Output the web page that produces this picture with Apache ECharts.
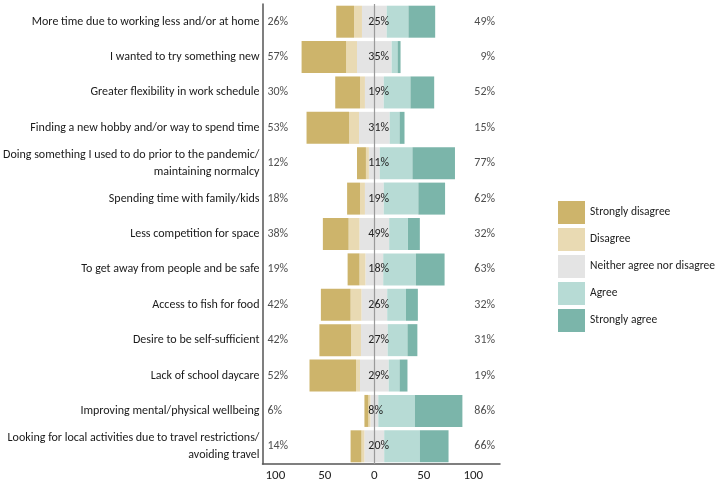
<!DOCTYPE html>
<html>
<head>
<meta charset="utf-8">
<script src="https://cdn.jsdelivr.net/npm/echarts@6/dist/echarts.min.js"></script>
<style>
  html, body { margin: 0; padding: 0; background: #fff; }
  #chart { width: 716px; height: 482px; }
</style>
</head>
<body>
<div id="chart"></div>
<script>
const categories = [
  'More time due to working less and/or at home',
  'I wanted to try something new',
  'Greater flexibility in work schedule',
  'Finding a new hobby and/or way to spend time',
  'Doing something I used to do prior to the pandemic/\nmaintaining normalcy',
  'Spending time with family/kids',
  'Less competition for space',
  'To get away from people and be safe',
  'Access to fish for food',
  'Desire to be self-sufficient',
  'Lack of school daycare',
  'Improving mental/physical wellbeing',
  'Looking for local activities due to travel restrictions/\navoiding travel'
];
const stronglyDisagree = [18, 45, 25, 43, 9, 13, 26, 12, 30, 32, 47, 4, 11];
const disagree         = [8, 11, 5, 10, 3, 5, 11, 6, 11, 10, 4, 2, 3];
const neutral          = [25, 35, 19, 31, 11, 19, 30, 18, 26, 27, 29, 8, 20];
const agree            = [22, 6, 27, 10, 33, 35, 19, 33, 19, 20, 11, 37, 36];
const stronglyAgree    = [27, 3, 24, 5, 43, 27, 12, 29, 12, 10, 8, 48, 29];
const leftLabels    = ['26%', '57%', '30%', '53%', '12%', '18%', '38%', '19%', '42%', '42%', '52%', '6%', '14%'];
const neutralLabels = ['25%', '35%', '19%', '31%', '11%', '19%', '49%', '18%', '26%', '27%', '29%', '8%', '20%'];
const rightLabels   = ['49%', '9%', '52%', '15%', '77%', '62%', '32%', '63%', '32%', '31%', '19%', '86%', '66%'];
const tickValues = [-100, -50, 0, 50, 100];

const seriesNames = ['Strongly disagree', 'Disagree', 'Neither agree nor disagree', 'Agree', 'Strongly agree'];
const colors = ['#CDB46B', '#E9DAB3', '#E4E4E4', '#B7DBD5', '#7BB5AA'];
const FONT = 'Carlito, Lato, "Liberation Sans", sans-serif';

const barBase = { type: 'bar', stack: 'lk', barWidth: 32, silent: true };

const option = {
  animation: false,
  textStyle: { fontFamily: FONT },
  grid: { left: 260, right: 216, top: 4, bottom: 16, containLabel: false },
  legend: {
    orient: 'vertical',
    left: 553,
    top: 196,
    itemWidth: 27,
    itemHeight: 23,
    itemGap: 4,
    icon: 'rect',
    data: seriesNames,
    textStyle: { fontFamily: FONT, fontSize: 11.5, color: '#222' },
    selectedMode: false
  },
  xAxis: {
    type: 'value',
    min: -113,
    max: 127,
    axisLine: { show: true, lineStyle: { color: '#555', width: 1.5 } },
    axisTick: { show: false },
    splitLine: { show: false },
    axisLabel: {
      customValues: tickValues,
      formatter: v => String(Math.abs(v)),
      fontFamily: FONT, fontSize: 13, color: '#222', margin: 5
    }
  },
  yAxis: {
    type: 'category',
    inverse: true,
    data: categories,
    axisLine: { show: true, onZero: false, lineStyle: { color: '#555', width: 1.5 } },
    axisTick: { show: false },
    axisLabel: { fontFamily: FONT, fontSize: 12, color: '#1a1a1a', margin: 3, lineHeight: 17, align: 'right', padding: [4, 0, 0, 0] }
  },
  series: [
    Object.assign({}, barBase, { name: seriesNames[2], data: neutral.map(v => -v / 2), itemStyle: { color: colors[2] } }),
    Object.assign({}, barBase, { name: seriesNames[1], data: disagree.map(v => -v), itemStyle: { color: colors[1] } }),
    Object.assign({}, barBase, { name: seriesNames[0], data: stronglyDisagree.map(v => -v), itemStyle: { color: colors[0] } }),
    Object.assign({}, barBase, {
      name: seriesNames[2], data: neutral.map(v => v / 2), itemStyle: { color: colors[2] },
      label: {
        show: true, position: 'insideLeft', distance: 0, offset: [-6, 0],
        formatter: p => neutralLabels[p.dataIndex],
        fontFamily: FONT, fontSize: 12, color: '#222'
      }
    }),
    Object.assign({}, barBase, { name: seriesNames[3], data: agree, itemStyle: { color: colors[3] } }),
    Object.assign({}, barBase, { name: seriesNames[4], data: stronglyAgree, itemStyle: { color: colors[4] } }),
    {
      type: 'scatter', name: 'leftPct', symbolSize: 0, silent: true, z: 5,
      data: leftLabels.map((t, i) => [-108, i]),
      label: { show: true, position: 'right', distance: 0, formatter: p => leftLabels[p.dataIndex], fontFamily: FONT, fontSize: 12, color: '#222' }
    },
    {
      type: 'scatter', name: 'rightPct', symbolSize: 0, silent: true, z: 5,
      data: rightLabels.map((t, i) => [122, i]),
      label: { show: true, position: 'left', distance: 0, formatter: p => rightLabels[p.dataIndex], fontFamily: FONT, fontSize: 12, color: '#222' }
    },
    {
      type: 'scatter', name: 'zero', data: [], silent: true, z: 10,
      markLine: {
        silent: true, symbol: 'none', label: { show: false },
        lineStyle: { color: '#9a9a9a', width: 1.2, type: 'solid' },
        data: [{ xAxis: 0 }]
      }
    }
  ]
};

const chart = echarts.init(document.getElementById('chart'), null, { renderer: 'canvas' });
chart.setOption(option);
</script>
</body>
</html>
